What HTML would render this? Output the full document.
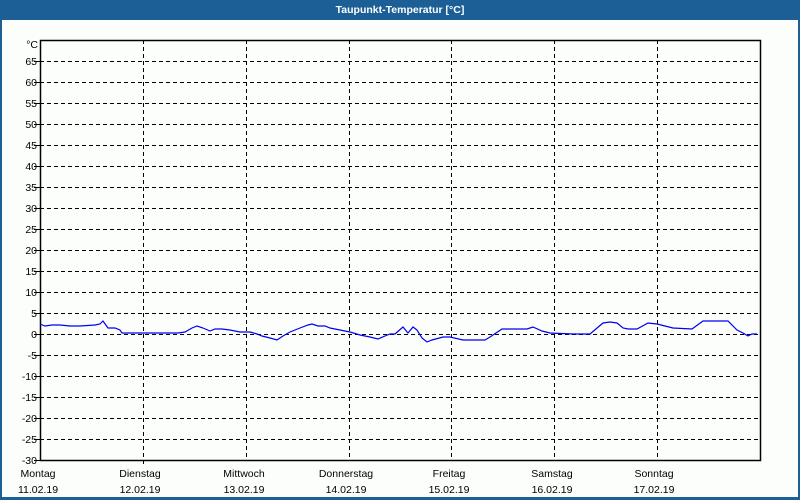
<!DOCTYPE html>
<html><head><meta charset="utf-8"><style>
html,body{margin:0;padding:0;background:#fff}
svg{display:block}
text{font-family:"Liberation Sans",sans-serif;font-size:10.5px;fill:#000}
</style></head><body>
<svg width="800" height="500" xmlns="http://www.w3.org/2000/svg">
<rect x="0" y="0" width="800" height="500" fill="#1b5f96"/>
<rect x="2" y="20" width="796" height="477" fill="#fcfefc"/>
<text x="400" y="13" text-anchor="middle" style="fill:#fff;font-weight:bold;font-size:10.5px">Taupunkt-Temperatur [°C]</text>
<g stroke="#000" stroke-width="1" stroke-dasharray="4,3">
<line x1="40" y1="61.5" x2="761" y2="61.5"/><line x1="40" y1="82.5" x2="761" y2="82.5"/><line x1="40" y1="103.5" x2="761" y2="103.5"/><line x1="40" y1="124.5" x2="761" y2="124.5"/><line x1="40" y1="145.5" x2="761" y2="145.5"/><line x1="40" y1="166.5" x2="761" y2="166.5"/><line x1="40" y1="187.5" x2="761" y2="187.5"/><line x1="40" y1="208.5" x2="761" y2="208.5"/><line x1="40" y1="229.5" x2="761" y2="229.5"/><line x1="40" y1="250.5" x2="761" y2="250.5"/><line x1="40" y1="271.5" x2="761" y2="271.5"/><line x1="40" y1="292.5" x2="761" y2="292.5"/><line x1="40" y1="313.5" x2="761" y2="313.5"/><line x1="40" y1="334.5" x2="761" y2="334.5"/><line x1="40" y1="355.5" x2="761" y2="355.5"/><line x1="40" y1="376.5" x2="761" y2="376.5"/><line x1="40" y1="397.5" x2="761" y2="397.5"/><line x1="40" y1="418.5" x2="761" y2="418.5"/><line x1="40" y1="439.5" x2="761" y2="439.5"/>
<line x1="143.5" y1="40" x2="143.5" y2="460"/><line x1="246.5" y1="40" x2="246.5" y2="460"/><line x1="349.5" y1="40" x2="349.5" y2="460"/><line x1="451.5" y1="40" x2="451.5" y2="460"/><line x1="554.5" y1="40" x2="554.5" y2="460"/><line x1="657.5" y1="40" x2="657.5" y2="460"/>
</g>
<g stroke="#000" stroke-width="1">
<line x1="34" y1="61.5" x2="40" y2="61.5"/><line x1="34" y1="82.5" x2="40" y2="82.5"/><line x1="34" y1="103.5" x2="40" y2="103.5"/><line x1="34" y1="124.5" x2="40" y2="124.5"/><line x1="34" y1="145.5" x2="40" y2="145.5"/><line x1="34" y1="166.5" x2="40" y2="166.5"/><line x1="34" y1="187.5" x2="40" y2="187.5"/><line x1="34" y1="208.5" x2="40" y2="208.5"/><line x1="34" y1="229.5" x2="40" y2="229.5"/><line x1="34" y1="250.5" x2="40" y2="250.5"/><line x1="34" y1="271.5" x2="40" y2="271.5"/><line x1="34" y1="292.5" x2="40" y2="292.5"/><line x1="34" y1="313.5" x2="40" y2="313.5"/><line x1="34" y1="334.5" x2="40" y2="334.5"/><line x1="34" y1="355.5" x2="40" y2="355.5"/><line x1="34" y1="376.5" x2="40" y2="376.5"/><line x1="34" y1="397.5" x2="40" y2="397.5"/><line x1="34" y1="418.5" x2="40" y2="418.5"/><line x1="34" y1="439.5" x2="40" y2="439.5"/><line x1="34" y1="460.5" x2="40" y2="460.5"/>
<line x1="143.5" y1="460" x2="143.5" y2="464"/>
</g>
<rect x="40.5" y="40.5" width="720" height="420" fill="none" stroke="#000" stroke-width="1.5"/>
<g text-anchor="end">
<text x="38" y="48">°C</text>
<text x="37" y="65">65</text><text x="37" y="86">60</text><text x="37" y="107">55</text><text x="37" y="128">50</text><text x="37" y="149">45</text><text x="37" y="170">40</text><text x="37" y="191">35</text><text x="37" y="212">30</text><text x="37" y="233">25</text><text x="37" y="254">20</text><text x="37" y="275">15</text><text x="37" y="296">10</text><text x="37" y="317">5</text><text x="37" y="338">0</text><text x="37" y="359">-5</text><text x="37" y="380">-10</text><text x="37" y="401">-15</text><text x="37" y="422">-20</text><text x="37" y="443">-25</text><text x="37" y="464">-30</text>
</g>
<g text-anchor="middle">
<text x="38" y="477">Montag</text><text x="38" y="493">11.02.19</text>
<text x="140" y="477">Dienstag</text><text x="140" y="493">12.02.19</text>
<text x="244" y="477">Mittwoch</text><text x="244" y="493">13.02.19</text>
<text x="346" y="477">Donnerstag</text><text x="346" y="493">14.02.19</text>
<text x="449" y="477">Freitag</text><text x="449" y="493">15.02.19</text>
<text x="552" y="477">Samstag</text><text x="552" y="493">16.02.19</text>
<text x="654" y="477">Sonntag</text><text x="654" y="493">17.02.19</text>
</g>
<polyline fill="none" stroke="#0000ee" stroke-width="1.2" points="40,324 45,326 52,325 60,325 70,326 80,326 95,325 100,324 103,321 108,328 115,328 120,330 122,333 130,333 140,333 150,333 170,333 178,333 185,332 192,328 197,326 203,328 210,331 215,329 222,329 230,330 240,332 250,332 257,334 262,336 270,338 277,340 283,336 290,332 300,328 308,325 312,324 318,326 325,326 330,328 340,330 350,332 360,335 370,337 378,339 385,336 390,334 395,334 403,327 408,333 413,327 417,330 422,338 427,342 432,340 443,337 450,337 463,340 485,340 490,337 502,329 527,329 533,327 542,331 550,333 573,334 590,334 603,323 610,322 617,323 623,328 628,329 637,329 648,323 657,324 673,328 692,329 703,321 710,321 728,321 737,330 743,333 748,336 752,334 757,334"/>
</svg>
</body></html>
